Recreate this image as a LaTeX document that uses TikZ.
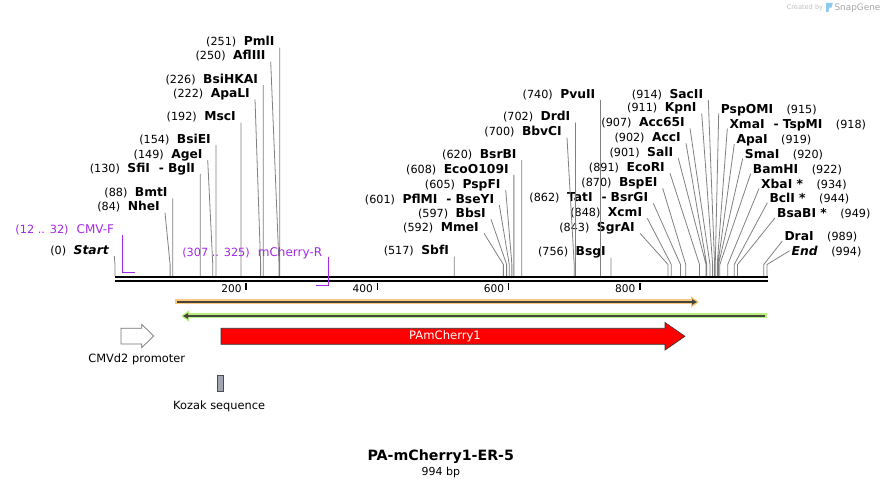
\documentclass[tikz,border=0pt]{standalone}
\usepackage{fontspec}
\setmainfont{DejaVu Sans}
\usepackage{tikz}
\usetikzlibrary{arrows.meta,positioning}

\definecolor{cutgray}{RGB}{128,128,128}
\definecolor{primerviolet}{RGB}{165,40,230}
\definecolor{haloorange}{RGB}{250,200,125}
\definecolor{halogreen}{RGB}{185,240,130}
\definecolor{featline}{RGB}{70,70,60}
\definecolor{kozakgray}{RGB}{160,165,175}
\definecolor{logoblue}{RGB}{140,200,240}

\newcommand\site[1]{{\mdseries\fontsize{11.2}{13}\selectfont(#1)}}
\newcommand\pairdash{\hspace{9pt}-\hspace{4pt}}

\begin{document}
\begin{tikzpicture}[x=1pt,y=-1pt,
    cutL/.style={anchor=south east,inner xsep=5pt,inner ysep=0pt,text depth=1.5pt,
      font=\fontsize{12.3}{14}\selectfont\bfseries},
    cutR/.style={cutL,anchor=south west,inner xsep=2pt,text depth=0pt},
    cut/.style={draw=cutgray,line width=0.8pt},
    primer/.style={draw=primerviolet,line width=1.4pt},
    plabel/.style={text=primerviolet,inner sep=0pt,anchor=base east,font=\fontsize{12}{14}\selectfont},
    caption/.style={inner sep=0pt,anchor=base,font=\fontsize{11.4}{13}\selectfont}]

  \useasboundingbox (0,0) rectangle (884,486);

  % sites and bends on the backbone
  \foreach \p in {0,84,88,130,149,154,192,222,226,250,251,517,592,597,601,605,608,620,
      700,702,740,756,843,848,862,870,891,901,902,907,911,914,915,918,919,920,922,934,
      944,949,989,994} {
    \coordinate (s\p) at ({115+0.656*\p},276.5);
    \coordinate (b\p) at ({115+0.656*\p},264.5);
  }

  % enzymes, left of their lines
  \node[cutL] (Start) at (114.3,256) {\site{0}\hspace{7.5pt}\textit{Start}};
  \node[cutL] (NheI) at (165,212.7) {\site{84}\hspace{7.5pt}NheI};
  \node[cutL] (BmtI) at (s88 |- 0,198.3) {\site{88}\hspace{7.5pt}BmtI};
  \node[cutL] (SfiI) at (s130 |- 0,174) {\site{130}\hspace{7.5pt}SfiI\pairdash BglI};
  \node[cutL] (AgeI) at (207.7,160) {\site{149}\hspace{7.5pt}AgeI};
  \node[cutL] (BsiEI) at (s154 |- 0,145) {\site{154}\hspace{7.5pt}BsiEI};
  \node[cutL] (MscI) at (s192 |- 0,122.7) {\site{192}\hspace{7.5pt}MscI};
  \node[cutL] (ApaLI) at (255,99.3) {\site{222}\hspace{7.5pt}ApaLI};
  \node[cutL] (BsiHKAI) at (s226 |- 0,85) {\site{226}\hspace{7.5pt}BsiHKAI};
  \node[cutL] (AflIII) at (270.7,61.7) {\site{250}\hspace{7.5pt}AflIII};
  \node[cutL] (PmlI) at (s251 |- 0,47.7) {\site{251}\hspace{7.5pt}PmlI};
  \node[cutL] (SbfI) at (s517 |- 0,256.7) {\site{517}\hspace{7.5pt}SbfI};
  \node[cutL] (MmeI) at (484,233.3) {\site{592}\hspace{7.5pt}MmeI};
  \node[cutL] (BbsI) at (491,219.3) {\site{597}\hspace{7.5pt}BbsI};
  \node[cutL] (PflMI) at (499.3,205) {\site{601}\hspace{7.5pt}PflMI\pairdash BseYI};
  \node[cutL] (PspFI) at (505.7,190) {\site{605}\hspace{7.5pt}PspFI};
  \node[cutL] (EcoO) at (s608 |- 0,175) {\site{608}\hspace{7.5pt}EcoO109I};
  \node[cutL] (BsrBI) at (s620 |- 0,160) {\site{620}\hspace{7.5pt}BsrBI};
  \node[cutL] (BbvCI) at (567,137.7) {\site{700}\hspace{7.5pt}BbvCI};
  \node[cutL] (DrdI) at (s702 |- 0,122.7) {\site{702}\hspace{7.5pt}DrdI};
  \node[cutL] (PvuII) at (s740 |- 0,100) {\site{740}\hspace{7.5pt}PvuII};
  \node[cutL] (BsgI) at (s756 |- 0,257.7) {\site{756}\hspace{7.5pt}BsgI};
  \node[cutL] (SgrAI) at (640,233.3) {\site{843}\hspace{7.5pt}SgrAI};
  \node[cutL] (XcmI) at (647.3,218.3) {\site{848}\hspace{7.5pt}XcmI};
  \node[cutL] (TatI) at (653.3,203.3) {\site{862}\hspace{7.5pt}TatI\pairdash BsrGI};
  \node[cutL] (BspEI) at (662.7,188.3) {\site{870}\hspace{7.5pt}BspEI};
  \node[cutL] (EcoRI) at (670,173.3) {\site{891}\hspace{7.5pt}EcoRI};
  \node[cutL] (SalI) at (678.3,158.3) {\site{901}\hspace{7.5pt}SalI};
  \node[cutL] (AccI) at (686,143.3) {\site{902}\hspace{7.5pt}AccI};
  \node[cutL] (AccSF) at (690,128.3) {\site{907}\hspace{7.5pt}Acc65I};
  \node[cutL] (KpnI) at (701.7,113.3) {\site{911}\hspace{7.5pt}KpnI};
  \node[cutL] (SacII) at (708.3,100) {\site{914}\hspace{7.5pt}SacII};
  % enzymes, right of their lines
  \node[cutR] (PspOMI) at (718.7,113.5) {PspOMI\hspace{13.5pt}\site{915}};
  \node[cutR] (XmaI) at (727.3,128.5) {XmaI\pairdash TspMI\hspace{13.5pt}\site{918}};
  \node[cutR] (ApaI) at (734.3,143.8) {ApaI\hspace{13.5pt}\site{919}};
  \node[cutR] (SmaI) at (742.7,158.5) {SmaI\hspace{13.5pt}\site{920}};
  \node[cutR] (BamHI) at (750.7,173.5) {BamHI\hspace{13.5pt}\site{922}};
  \node[cutR] (XbaI) at (759,188.5) {XbaI *\hspace{13.5pt}\site{934}};
  \node[cutR] (BclI) at (767.3,202.8) {BclI *\hspace{13.5pt}\site{944}};
  \node[cutR] (BsaBI) at (775,217.8) {BsaBI *\hspace{13.5pt}\site{949}};
  \node[cutR] (DraI) at (782.3,241) {DraI\hspace{13.5pt}\site{989}};
  \node[cutR] (End) at (789.5,255.7) {\textit{End}\hspace{13.5pt}\site{994}};

  \draw[cut]
    (Start.south east) -- (b0) -- (s0)
    (NheI.south east) -- (b84) -- (s84)
    (BmtI.south east) -- (s88)
    (SfiI.south east) -- (s130)
    (AgeI.south east) -- (b149) -- (s149)
    (BsiEI.south east) -- (s154)
    (MscI.south east) -- (s192)
    (ApaLI.south east) -- (b222) -- (s222)
    (BsiHKAI.south east) -- (s226)
    (AflIII.south east) -- (b250) -- (s250)
    (PmlI.south east) -- (s251)
    (SbfI.south east) -- (s517)
    (MmeI.south east) -- (b592) -- (s592)
    (BbsI.south east) -- (b597) -- (s597)
    (PflMI.south east) -- (b601) -- (s601)
    (PspFI.south east) -- (b605) -- (s605)
    (EcoO.south east) -- (s608)
    (BsrBI.south east) -- (s620)
    (BbvCI.south east) -- (b700) -- (s700)
    (DrdI.south east) -- (s702)
    (PvuII.south east) -- (s740)
    (BsgI.south east) -- (s756)
    (SgrAI.south east) -- (b843) -- (s843)
    (XcmI.south east) -- (b848) -- (s848)
    (TatI.south east) -- (b862) -- (s862)
    (BspEI.south east) -- (b870) -- (s870)
    (EcoRI.south east) -- (b891) -- (s891)
    (SalI.south east) -- (b901) -- (s901)
    (AccI.south east) -- (b902) -- (s902)
    (AccSF.south east) -- (b907) -- (s907)
    (KpnI.south east) -- (b911) -- (s911)
    (SacII.south east) -- (b914) -- (s914)
    (PspOMI.south west) -- (b915) -- (s915)
    (XmaI.south west) -- (b918) -- (s918)
    (ApaI.south west) -- (b919) -- (s919)
    (SmaI.south west) -- (b920) -- (s920)
    (BamHI.south west) -- (b922) -- (s922)
    (XbaI.south west) -- (b934) -- (s934)
    (BclI.south west) -- (b944) -- (s944)
    (BsaBI.south west) -- (b949) -- (s949)
    (DraI.south west) -- (b989) -- (s989)
    (End.west) -- (b994) -- (s994);

  % backbone and ruler
  \coordinate (bbL) at (115,277.2);
  \coordinate (bbR) at (768,277.2);
  \draw[line width=2.6pt] (bbL) -- (bbR);
  \draw[line width=2.6pt] ([yshift=-4pt]bbL) -- ([yshift=-4pt]bbR);
  \foreach \t in {200,400,600,800} {
    \draw[line width=1.6pt] ({115+0.656*\t},282.7) -- ++(0,7);
    \node[inner sep=0pt,anchor=base east,font=\fontsize{10.6}{12}\selectfont] (tk\t)
      at ({110.7+0.656*\t},292.7) {\t};
  }

  % primers
  \node[plabel] (CMVF) at (114.3,233.3) {{\fontsize{11.3}{13}\selectfont(12 .. 32)}\hspace{8pt}CMV-F};
  \coordinate (cmvfTop) at (122.7,235);
  \coordinate (cmvfEnd) at (135,272.7);
  \draw[primer] (cmvfTop) |- (cmvfEnd);
  \node[plabel] (mChR) at (322.3,256.7) {{\fontsize{11.3}{13}\selectfont(307 .. 325)}\hspace{8pt}mCherry-R};
  \coordinate (mchrTop) at (328.5,256.7);
  \coordinate (mchrEnd) at (316,285.5);
  \draw[primer] (mchrTop) |- (mchrEnd);

  % features
  \coordinate (orA) at (177,302);
  \coordinate (orB) at (697,302);
  \draw[line width=5pt,haloorange,-{Triangle[length=8pt,width=11pt]}] ([xshift=-2pt]orA) -- ([xshift=2pt]orB);
  \draw[line width=1.6pt,featline,-{Triangle[length=5pt,width=5.5pt]}] (orA) -- (orB);
  \coordinate (grA) at (765,316);
  \coordinate (grB) at (183,316);
  \draw[line width=5pt,halogreen,-{Triangle[length=8pt,width=11pt]}] ([xshift=2pt]grA) -- ([xshift=-2pt]grB);
  \draw[line width=1.6pt,featline,-{Triangle[length=5pt,width=5.5pt]}] (grA) -- (grB);

  \draw[fill=red,draw=black!80,line width=0.6pt]
    (221,328.3) -- (665,328.3) -- (665,322.5) -- (685,336.3) -- (665,350.1) -- (665,344.3) -- (221,344.3) -- cycle;
  \node[text=white,inner sep=0pt,font=\fontsize{11.6}{13}\selectfont] (PAm) at (445,336.3) {PAmCherry1};

  \draw[fill=white,draw=black!55,line width=0.7pt]
    (121,328.3) -- (141.7,328.3) -- (141.7,324.3) -- (153.7,336) -- (141.7,347.7) -- (141.7,344) -- (121,344) -- cycle;
  \node[caption] (prom) at (136.7,362.7) {CMVd2 promoter};

  \draw[fill=kozakgray,draw=black!70,line width=0.6pt] (217.7,375.3) rectangle (223.7,391);
  \node[caption] (kozak) at (219.2,409.3) {Kozak sequence};

  % title
  \node[inner sep=0pt,anchor=base,font=\fontsize{14.2}{16}\selectfont\bfseries] (title) at (440.8,460.7) {PA-mCherry1-ER-5};
  \node[inner sep=0pt,anchor=base,font=\fontsize{11}{13}\selectfont] (size) at (440.8,475) {994 bp};

  % credit
  \node[inner sep=0pt,anchor=base east,text=black!25,font=\fontsize{6.6}{8}\selectfont] (made) at (823.3,10) {Created by};
  \fill[logoblue] (826,2.8) -- (832.8,2.8) -- (831.5,7.6) -- (829.3,7.6) -- (828.4,12) -- (826,12) -- cycle;
  \node[inner sep=0pt,anchor=base west,text=black!35,font=\fontsize{8.9}{10}\selectfont] (sg) at (834.3,10.4) {SnapGene};
\end{tikzpicture}
\end{document}
